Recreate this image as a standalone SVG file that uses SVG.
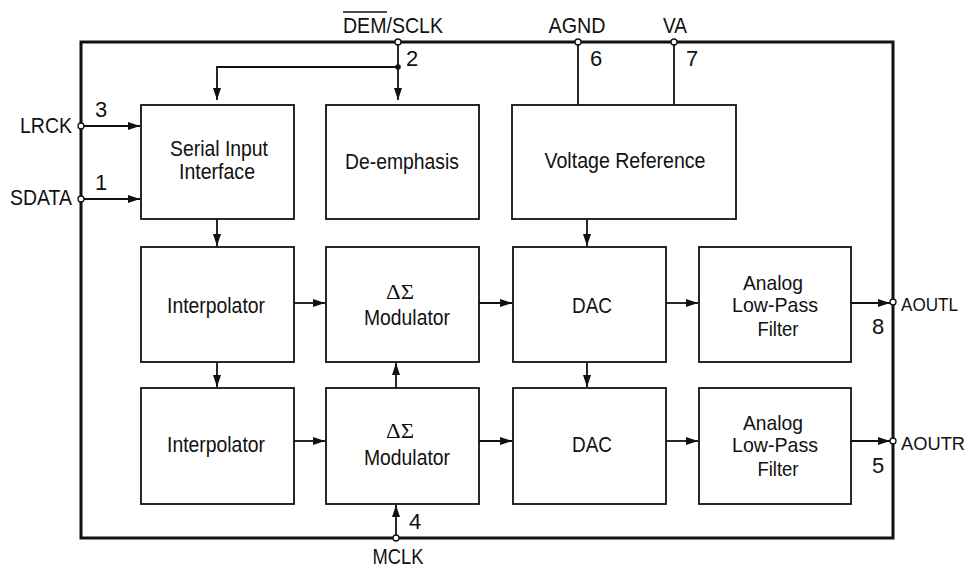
<svg xmlns="http://www.w3.org/2000/svg" width="969" height="568" viewBox="0 0 969 568">
<style>
.box{fill:#fff;stroke:#111;stroke-width:1.8}
.frame{fill:none;stroke:#111;stroke-width:3}
.ln{fill:none;stroke:#111;stroke-width:1.8}
.t{font-family:"Liberation Sans",Arial,sans-serif;font-size:22px;fill:#111;text-anchor:middle}
.f{font-size:21px}
.o{font-size:19px;text-anchor:start}
.s{font-family:"Liberation Serif","Times New Roman",serif;font-size:20px;fill:#111;text-anchor:middle}
.pin{fill:#fff;stroke:#111;stroke-width:1.3}
</style>
<defs>
<marker id="ah" viewBox="0 0 12 8" refX="12" refY="4" markerWidth="12" markerHeight="8" markerUnits="userSpaceOnUse" orient="auto">
<path d="M0,0 L12,4 L0,8 z" fill="#111"/>
</marker>
</defs>
<rect class="frame" x="81" y="42" width="812" height="496"/>
<g id="connectors">
<path class="ln" d="M398,42 V100" marker-end="url(#ah)"/>
<path class="ln" d="M398,67 H217 V100" marker-end="url(#ah)"/>
<circle cx="398" cy="67" r="2.8" fill="#111"/>
<path class="ln" d="M84,126 H140" marker-end="url(#ah)"/>
<path class="ln" d="M84,199 H140" marker-end="url(#ah)"/>
<path class="ln" d="M578,42 V105"/>
<path class="ln" d="M674,42 V105"/>
<path class="ln" d="M217,219 V246" marker-end="url(#ah)"/>
<path class="ln" d="M587,219 V246" marker-end="url(#ah)"/>
<path class="ln" d="M294,303 H325" marker-end="url(#ah)"/>
<path class="ln" d="M479,303 H512" marker-end="url(#ah)"/>
<path class="ln" d="M666,303 H698" marker-end="url(#ah)"/>
<path class="ln" d="M851,303 H890" marker-end="url(#ah)"/>
<path class="ln" d="M217,362 V387" marker-end="url(#ah)"/>
<path class="ln" d="M587,362 V387" marker-end="url(#ah)"/>
<path class="ln" d="M396,388 V363" marker-end="url(#ah)"/>
<path class="ln" d="M294,441 H325" marker-end="url(#ah)"/>
<path class="ln" d="M479,441 H512" marker-end="url(#ah)"/>
<path class="ln" d="M666,441 H698" marker-end="url(#ah)"/>
<path class="ln" d="M851,441 H890" marker-end="url(#ah)"/>
<path class="ln" d="M396,535 V505" marker-end="url(#ah)"/>
</g>
<g id="pins">
<circle class="pin" cx="398" cy="42" r="3"/>
<circle class="pin" cx="578" cy="42" r="3"/>
<circle class="pin" cx="674" cy="42" r="3"/>
<circle class="pin" cx="81" cy="126" r="3"/>
<circle class="pin" cx="81" cy="199" r="3"/>
<circle class="pin" cx="893" cy="302" r="3"/>
<circle class="pin" cx="893" cy="441" r="3"/>
<circle class="pin" cx="396" cy="538" r="3"/>
<text class="t" x="393" y="33" textLength="100" lengthAdjust="spacingAndGlyphs">DEM/SCLK</text>
<line x1="343" y1="12" x2="387" y2="12" stroke="#111" stroke-width="1.5"/>
<text class="t" x="412" y="66">2</text>
<text class="t" x="577" y="33" textLength="57" lengthAdjust="spacingAndGlyphs">AGND</text>
<text class="t" x="596" y="66">6</text>
<text class="t" x="675" y="33" textLength="24" lengthAdjust="spacingAndGlyphs">VA</text>
<text class="t" x="692" y="66">7</text>
<text class="t" x="46" y="133" textLength="52" lengthAdjust="spacingAndGlyphs">LRCK</text>
<text class="t" x="101" y="117">3</text>
<text class="t" x="41" y="205" textLength="62" lengthAdjust="spacingAndGlyphs">SDATA</text>
<text class="t" x="101" y="190">1</text>
<text class="t o" x="901" y="311" textLength="57" lengthAdjust="spacingAndGlyphs">AOUTL</text>
<text class="t o" x="901" y="450" textLength="64" lengthAdjust="spacingAndGlyphs">AOUTR</text>
<text class="t" x="878" y="334">8</text>
<text class="t" x="878" y="473">5</text>
<text class="t" x="415" y="529">4</text>
<text class="t" x="398" y="564" textLength="51" lengthAdjust="spacingAndGlyphs">MCLK</text>
</g>
<g id="serial">
<rect class="box" x="141" y="105" width="153" height="114"/>
<text class="t" x="219" y="156" textLength="98" lengthAdjust="spacingAndGlyphs">Serial Input</text>
<text class="t" x="217" y="179" textLength="76" lengthAdjust="spacingAndGlyphs">Interface</text>
</g>
<g id="deemph">
<rect class="box" x="326" y="105" width="153" height="114"/>
<text class="t" x="402" y="169" textLength="114" lengthAdjust="spacingAndGlyphs">De-emphasis</text>
</g>
<g id="vref">
<rect class="box" x="512" y="105" width="224" height="114"/>
<text class="t" x="625" y="168" textLength="161" lengthAdjust="spacingAndGlyphs">Voltage Reference</text>
</g>
<g id="interp1">
<rect class="box" x="141" y="247" width="153" height="115"/>
<text class="t" x="216" y="313" textLength="98" lengthAdjust="spacingAndGlyphs">Interpolator</text>
</g>
<g id="mod1">
<rect class="box" x="326" y="247" width="153" height="115"/>
<text class="s" x="400" y="299" textLength="28" lengthAdjust="spacingAndGlyphs">ΔΣ</text>
<text class="t" x="407" y="325" textLength="86" lengthAdjust="spacingAndGlyphs">Modulator</text>
</g>
<g id="dac1">
<rect class="box" x="513" y="247" width="153" height="115"/>
<text class="t" x="592" y="313" textLength="40" lengthAdjust="spacingAndGlyphs">DAC</text>
</g>
<g id="filt1">
<rect class="box" x="699" y="247" width="152" height="115"/>
<text class="t f" x="773" y="290" textLength="60" lengthAdjust="spacingAndGlyphs">Analog</text>
<text class="t f" x="775" y="312" textLength="86" lengthAdjust="spacingAndGlyphs">Low-Pass</text>
<text class="t f" x="778" y="336" textLength="41" lengthAdjust="spacingAndGlyphs">Filter</text>
</g>
<g id="interp2">
<rect class="box" x="141" y="388" width="153" height="116"/>
<text class="t" x="216" y="452" textLength="98" lengthAdjust="spacingAndGlyphs">Interpolator</text>
</g>
<g id="mod2">
<rect class="box" x="326" y="388" width="153" height="116"/>
<text class="s" x="400" y="438" textLength="28" lengthAdjust="spacingAndGlyphs">ΔΣ</text>
<text class="t" x="407" y="465" textLength="86" lengthAdjust="spacingAndGlyphs">Modulator</text>
</g>
<g id="dac2">
<rect class="box" x="513" y="388" width="153" height="116"/>
<text class="t" x="592" y="452" textLength="40" lengthAdjust="spacingAndGlyphs">DAC</text>
</g>
<g id="filt2">
<rect class="box" x="699" y="388" width="152" height="116"/>
<text class="t f" x="773" y="430" textLength="60" lengthAdjust="spacingAndGlyphs">Analog</text>
<text class="t f" x="775" y="452" textLength="86" lengthAdjust="spacingAndGlyphs">Low-Pass</text>
<text class="t f" x="778" y="476" textLength="41" lengthAdjust="spacingAndGlyphs">Filter</text>
</g>
</svg>
